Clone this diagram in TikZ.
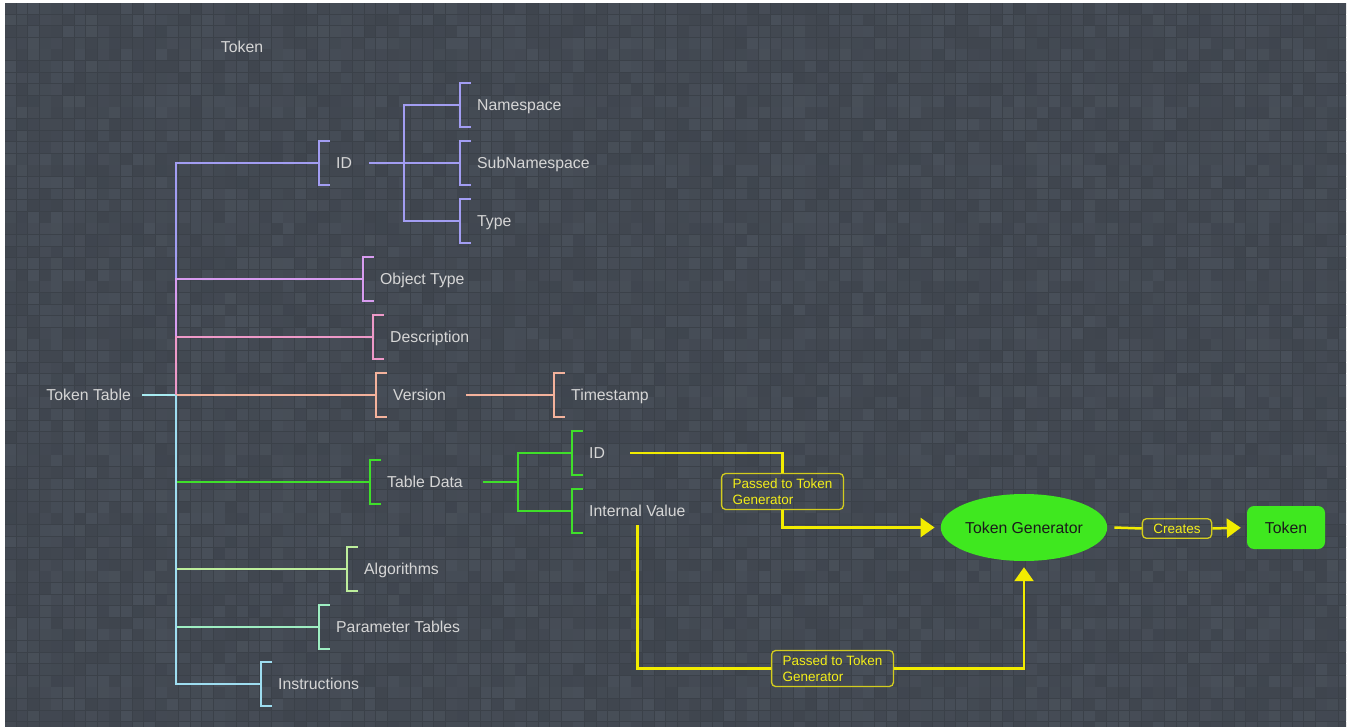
\documentclass[tikz,border=0pt]{standalone}
\usepackage{fontspec}
\setmainfont{Liberation Sans}
\usetikzlibrary{positioning,arrows.meta,shapes.geometric}
\definecolor{txt}{HTML}{D6D6D6}
\definecolor{ink}{HTML}{1A1A1A}
\definecolor{gridln}{HTML}{3B4149}
\definecolor{tileA}{HTML}{484F59}
\definecolor{tileB}{HTML}{3F454E}
\definecolor{cRoot}{HTML}{A8ECF2}
\definecolor{cId}{HTML}{A29DF2}
\definecolor{cObj}{HTML}{D89CF0}
\definecolor{cDesc}{HTML}{EE99C8}
\definecolor{cVer}{HTML}{F4B29C}
\definecolor{cTab}{HTML}{3FDF2A}
\definecolor{cAlg}{HTML}{BDEE9C}
\definecolor{cPar}{HTML}{9EEEC2}
\definecolor{cIns}{HTML}{9EDDF0}
\definecolor{ylw}{HTML}{F2EC00}
\definecolor{ylwb}{HTML}{D2CC1E}
\definecolor{gen}{HTML}{3FE81F}
\newcommand{\brk}[2]{\draw[#1] ([xshift=11pt]#2.north west) -- (#2.north west) -- (#2.south west) -- ([xshift=11pt]#2.south west);}

\begin{document}
\begin{tikzpicture}[x=1pt, y=-1pt,
  lbl/.style={text=txt, font=\fontsize{15.8}{18}\selectfont, inner sep=0pt},
  leaf/.style={lbl, anchor=west, inner xsep=17pt, minimum height=44pt, text depth=0pt, text height=11.5pt},
  br/.style={draw=#1, line width=2pt},
  yl/.style={draw=ylw, line width=2.5pt},
  arr/.style={-{Triangle[length=14pt, width=19pt]}, shorten >=6pt},
  tag/.style={draw=ylwb, line width=1.3pt, rounded corners=4pt, text=ylw!90!white, font=\fontsize{13.5}{16}\selectfont, inner xsep=11pt, inner ysep=5pt, align=left},
  greenbox/.style={fill=gen, text=ink, font=\fontsize{15.8}{18}\selectfont, inner sep=0pt}]
% ---------------- background tiles
\fill[white] (0,0) rectangle (1351,727);
\fill[gridln] (5,3) rectangle (1346,727);
\begin{scope}
\clip (5,3) rectangle (1346,727);
\pgfmathsetseed{17}
\foreach \i in {0,...,115} {
  \foreach \j in {0,...,62} {
    \pgfmathrandominteger{\r}{0}{100}
    \fill[tileA!\r!tileB] (5+\i*11.6, 3+\j*11.6) rectangle ++(10.8,10.8);
  }
}
\end{scope}
% ---------------- mind map
\node[lbl] (title) at (242,47) {Token};
\node[lbl, anchor=east, inner xsep=11pt] (root) at (142,395) {Token Table};
\coordinate (trunk) at (176,395);
\node[leaf] (id) at (319,163) {ID};
\node[leaf] (ns) at (460,105) {Namespace};
\node[leaf] (sns) at (460,163) {SubNamespace};
\node[leaf] (typ) at (460,221) {Type};
\node[leaf] (otype) at (363,279) {Object Type};
\node[leaf] (desc) at (373,337) {Description};
\node[leaf] (ver) at (376,395) {Version};
\node[leaf] (stamp) at (554,395) {Timestamp};
\node[leaf] (tdata) at (370,482) {Table Data};
\node[leaf] (tdid) at (572,453) {ID};
\node[leaf] (ival) at (572,511) {Internal Value};
\node[leaf] (algo) at (347,569) {Algorithms};
\node[leaf] (ptab) at (319,627) {Parameter Tables};
\node[leaf] (instr) at (261,684) {Instructions};
\coordinate (idj) at (404,163);
\coordinate (tdj) at (518,482);

\draw[br=cRoot] (root.east) -- (trunk);
\draw[br=cId] (trunk) |- (id.west); \brk{br=cId}{id}
\draw[br=cId] (id.east) -- (idj);
\draw[br=cId] (idj) |- (ns.west); \brk{br=cId}{ns}
\draw[br=cId] (idj) -- (sns.west); \brk{br=cId}{sns}
\draw[br=cId] (idj) |- (typ.west); \brk{br=cId}{typ}
\draw[br=cObj] (trunk) |- (otype.west); \brk{br=cObj}{otype}
\draw[br=cDesc] (trunk) |- (desc.west); \brk{br=cDesc}{desc}
\draw[br=cVer] (trunk) -- (ver.west); \brk{br=cVer}{ver}
\draw[br=cVer] ([xshift=3pt]ver.east) -- (stamp.west); \brk{br=cVer}{stamp}
\draw[br=cTab] (trunk) |- (tdata.west); \brk{br=cTab}{tdata}
\draw[br=cTab] ([xshift=3pt]tdata.east) -- (tdj);
\draw[br=cTab] (tdj) |- (tdid.west); \brk{br=cTab}{tdid}
\draw[br=cTab] (tdj) |- (ival.west); \brk{br=cTab}{ival}
\draw[br=cAlg] (trunk) |- (algo.west); \brk{br=cAlg}{algo}
\draw[br=cPar] (trunk) |- (ptab.west); \brk{br=cPar}{ptab}
\draw[br=cIns] (trunk) |- (instr.west); \brk{br=cIns}{instr}
% ---------------- generator side
\node[greenbox, ellipse, minimum width=164pt, minimum height=67pt] (tgen) at (1024,527.5) {Token Generator};
\node[greenbox, rounded corners=7pt, minimum width=78pt, minimum height=43pt] (tok) at (1286,527.5) {Token};
\node[tag] (creates) at (1177,528.5) {Creates};
\node[tag] (pass1) at (782.5,491.5) {Passed to Token\\Generator};
\node[tag] (pass2) at (832.5,668.5) {Passed to Token\\Generator};
\draw[yl] ([xshift=8pt]tdid.east) -| (pass1.north);
\draw[yl, arr] (pass1.south) |- (tgen.west);
\draw[yl] ([yshift=8pt]ival.south) |- (pass2.west);
\draw[yl, arr] (pass2.east) -| (tgen.south);
\draw[yl] ([xshift=7pt]tgen.east) -- (creates.west);
\draw[yl, arr] (creates.east) -- (tok.west);
\end{tikzpicture}
\end{document}
